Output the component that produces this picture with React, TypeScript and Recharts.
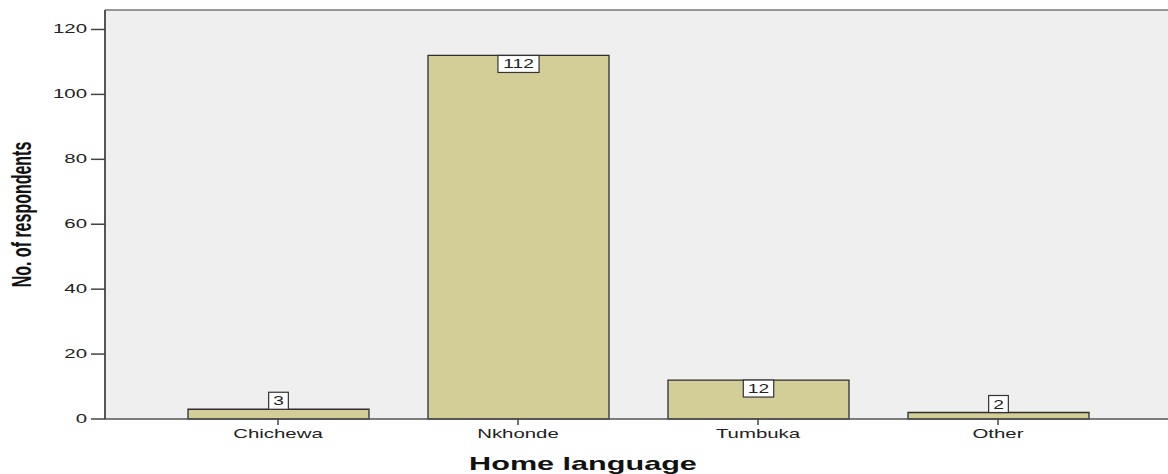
import React from "react";
import {
  BarChart,
  Bar,
  XAxis,
  YAxis,
  CartesianGrid,
  LabelList,
  ReferenceLine,
  Label,
} from "recharts";

const languages = ["Chichewa", "Nkhonde", "Tumbuka", "Other"];
const respondents = [3, 112, 12, 2];
const yTicks = [0, 20, 40, 60, 80, 100, 120];

const data = languages.map((name, i) => ({ name, count: respondents[i] }));

const STRETCH = 1.7;
const FONT = "'Liberation Sans', Arial, sans-serif";

function YTick(props: any) {
  const { x, y, payload } = props;
  return (
    <text
      transform={`translate(${x - 2},${y + 4}) scale(${STRETCH},1)`}
      textAnchor="end"
      fontFamily={FONT}
      fontSize={12}
      fill="#222"
    >
      {payload.value}
    </text>
  );
}

function XTick(props: any) {
  const { x, y, payload } = props;
  return (
    <text
      transform={`translate(${x},${y + 11}) scale(${STRETCH},1)`}
      textAnchor="middle"
      fontFamily={FONT}
      fontSize={12}
      fill="#222"
    >
      {payload.value}
    </text>
  );
}

function ValueBox(props: any) {
  const { x, y, width, height, value } = props;
  const s = String(value);
  const w = s.length * 10.7 + 9;
  const h = 17;
  const cx = x + width / 2;
  const top = height > 30 ? y : y - h;
  return (
    <g>
      <rect
        x={cx - w / 2}
        y={top}
        width={w}
        height={h}
        fill="#ffffff"
        stroke="#333"
        strokeWidth={1.2}
      />
      <text
        transform={`translate(${cx},${top + 13}) scale(1.6,1)`}
        textAnchor="middle"
        fontFamily={FONT}
        fontSize={12}
        fill="#222"
      >
        {s}
      </text>
    </g>
  );
}

export default function App() {
  return (
    <div
      style={{
        position: "absolute",
        left: 0,
        top: 0,
        width: 1168,
        height: 474,
        background: "#fff",
      }}
    >
      <BarChart
        width={1168}
        height={474}
        data={data}
        margin={{ top: 10, right: 0, left: 0, bottom: 0 }}
        barSize={181}
      >
        <CartesianGrid
          horizontal={false}
          vertical={false}
          fill="#efefef"
        />
        <XAxis
          dataKey="name"
          height={55}
          padding={{ left: 53, right: 50 }}
          tickSize={6}
          tickLine={{ stroke: "#444", strokeWidth: 1.5 }}
          axisLine={{ stroke: "#555", strokeWidth: 1.5 }}
          tick={<XTick />}
          interval={0}
        >
          <Label
            content={(p: any) => {
              const vb = p.viewBox;
              return (
                <text
                  transform={`translate(${vb.x + 478},${vb.y + 51}) scale(${STRETCH},1)`}
                  textAnchor="middle"
                  fontFamily={FONT}
                  fontWeight="bold"
                  fontSize={18}
                  fill="#111"
                >
                  Home language
                </text>
              );
            }}
          />
        </XAxis>
        <YAxis
          width={105}
          domain={[0, 126]}
          ticks={yTicks}
          tickSize={14}
          tickMargin={2}
          tickLine={{ stroke: "#444", strokeWidth: 1.5 }}
          axisLine={{ stroke: "#444", strokeWidth: 1.8 }}
          tick={<YTick />}
        >
          <Label
            content={(p: any) => {
              const vb = p.viewBox;
              return (
                <text
                  transform={`translate(${vb.x + 31},${vb.y + vb.height / 2}) scale(${STRETCH},1) rotate(-90)`}
                  textAnchor="middle"
                  fontFamily="'Liberation Sans Narrow', 'Arial Narrow', sans-serif"
                  fontWeight="bold"
                  fontSize={16}
                  fill="#111"
                >
                  No. of respondents
                </text>
              );
            }}
          />
        </YAxis>
        <ReferenceLine y={126} stroke="#777" strokeWidth={1.5} />
        <Bar
          dataKey="count"
          fill="#d3ce98"
          stroke="#2e2e2e"
          strokeWidth={1.3}
          isAnimationActive={false}
        >
          <LabelList dataKey="count" content={<ValueBox />} />
        </Bar>
      </BarChart>
    </div>
  );
}
